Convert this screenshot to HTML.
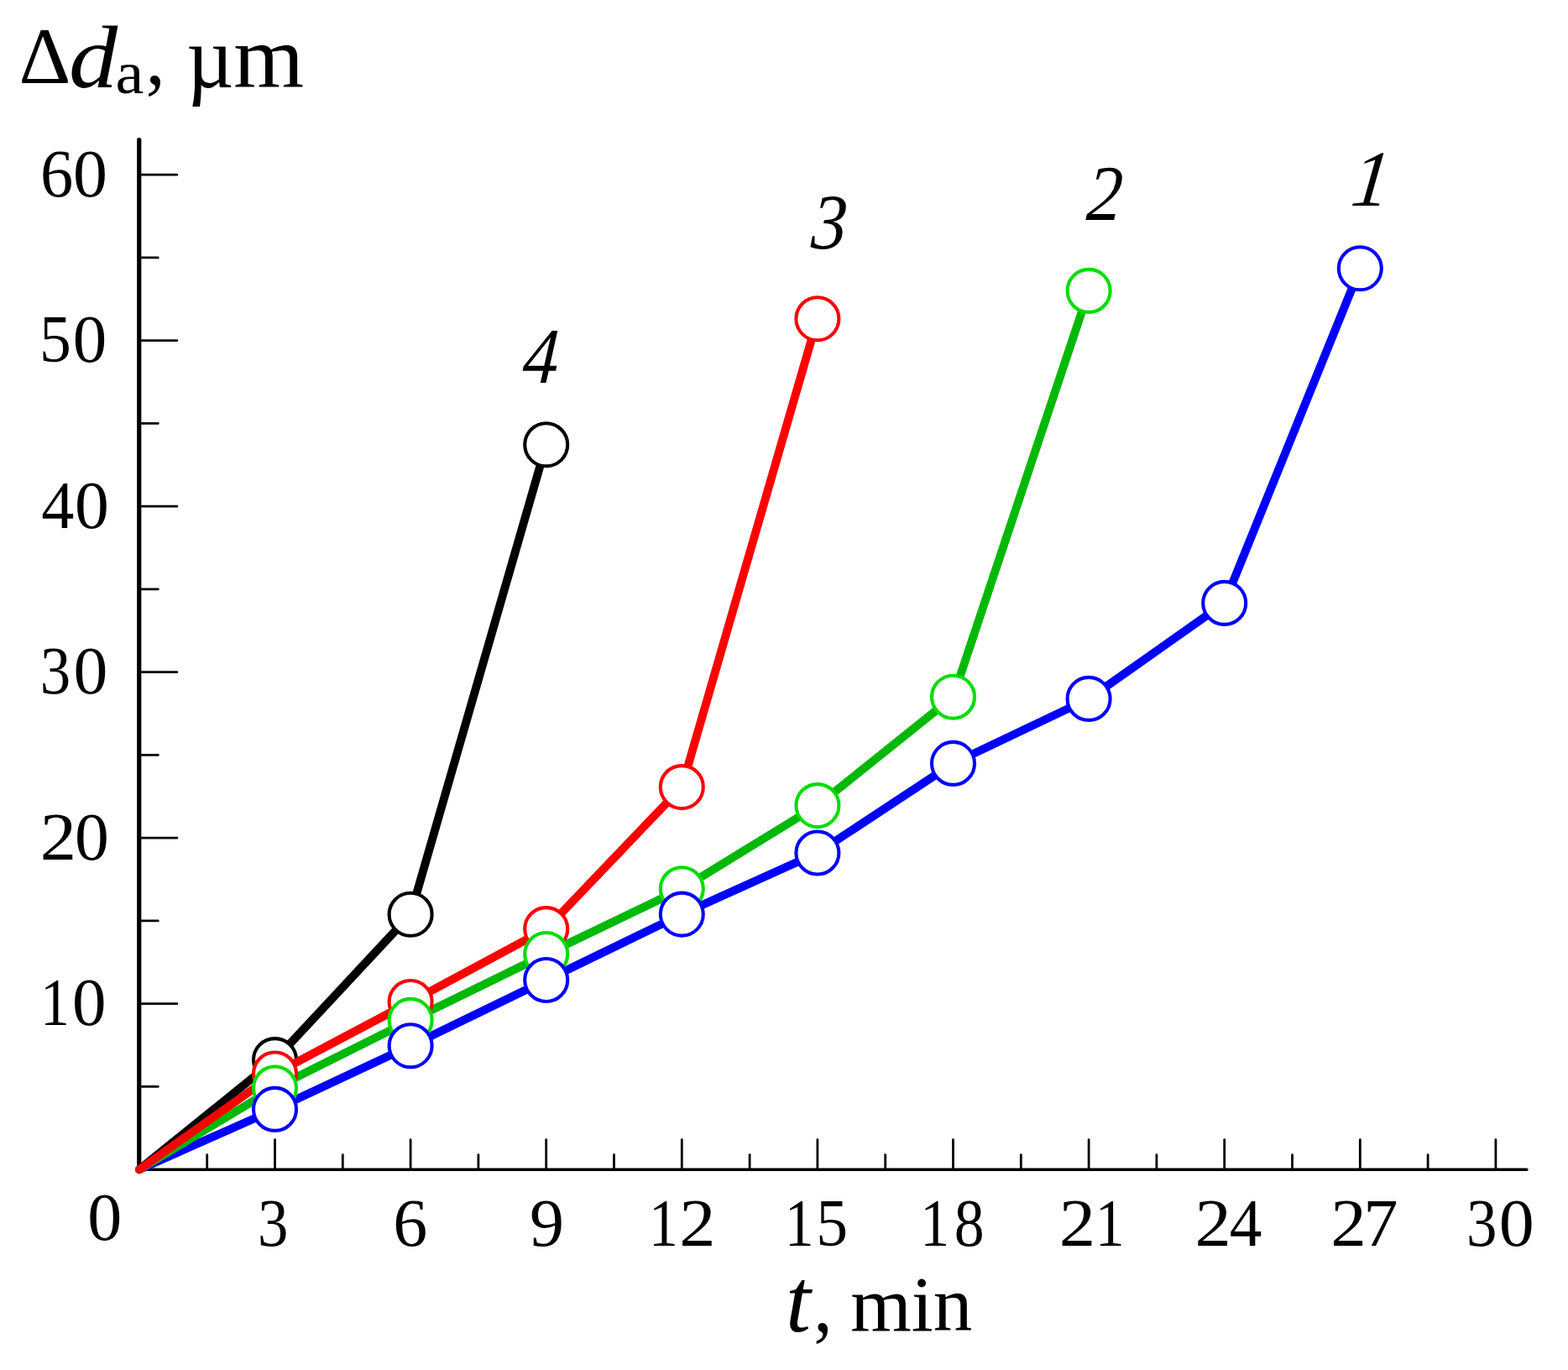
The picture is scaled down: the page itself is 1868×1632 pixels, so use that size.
<!DOCTYPE html>
<html lang="en">
<head>
<meta charset="utf-8">
<style>
html, body { margin: 0; padding: 0; background: #ffffff; overflow: hidden; }
svg { display: block; }
text { font-family: "Liberation Serif", "DejaVu Serif", serif; fill: #000000; }
</style>
</head>
<body>
<svg width="1868" height="1632" viewBox="0 0 1868 1632">
<rect x="0" y="0" width="1868" height="1632" fill="#ffffff"/>
<g id="axes" stroke="#000000" stroke-linecap="round" fill="none">
<line x1="165.75" y1="166.5" x2="165.75" y2="1393.2" stroke-width="5.2"/>
<line x1="165.9" y1="1393.2" x2="1818.8" y2="1393.2" stroke-width="3.6"/>
<g id="yticks" stroke-width="2.8">
<line x1="165.9" y1="1294.45" x2="188.3" y2="1294.45"/>
<line x1="165.9" y1="1195.7" x2="210.8" y2="1195.7"/>
<line x1="165.9" y1="1096.95" x2="188.3" y2="1096.95"/>
<line x1="165.9" y1="998.2" x2="210.8" y2="998.2"/>
<line x1="165.9" y1="899.45" x2="188.3" y2="899.45"/>
<line x1="165.9" y1="800.7" x2="210.8" y2="800.7"/>
<line x1="165.9" y1="701.95" x2="188.3" y2="701.95"/>
<line x1="165.9" y1="603.2" x2="210.8" y2="603.2"/>
<line x1="165.9" y1="504.45" x2="188.3" y2="504.45"/>
<line x1="165.9" y1="405.7" x2="210.8" y2="405.7"/>
<line x1="165.9" y1="306.95" x2="188.3" y2="306.95"/>
<line x1="165.9" y1="208.2" x2="210.8" y2="208.2"/>
</g>
<g id="xticks" stroke-width="2.8">
<line x1="246.7" y1="1393.2" x2="246.7" y2="1375.7"/>
<line x1="327.5" y1="1393.2" x2="327.5" y2="1357.7"/>
<line x1="408.3" y1="1393.2" x2="408.3" y2="1375.7"/>
<line x1="489.1" y1="1393.2" x2="489.1" y2="1357.7"/>
<line x1="569.9" y1="1393.2" x2="569.9" y2="1375.7"/>
<line x1="650.7" y1="1393.2" x2="650.7" y2="1357.7"/>
<line x1="731.5" y1="1393.2" x2="731.5" y2="1375.7"/>
<line x1="812.3" y1="1393.2" x2="812.3" y2="1357.7"/>
<line x1="893.1" y1="1393.2" x2="893.1" y2="1375.7"/>
<line x1="973.9" y1="1393.2" x2="973.9" y2="1357.7"/>
<line x1="1054.7" y1="1393.2" x2="1054.7" y2="1375.7"/>
<line x1="1135.5" y1="1393.2" x2="1135.5" y2="1357.7"/>
<line x1="1216.3" y1="1393.2" x2="1216.3" y2="1375.7"/>
<line x1="1297.1" y1="1393.2" x2="1297.1" y2="1357.7"/>
<line x1="1377.9" y1="1393.2" x2="1377.9" y2="1375.7"/>
<line x1="1458.7" y1="1393.2" x2="1458.7" y2="1357.7"/>
<line x1="1539.5" y1="1393.2" x2="1539.5" y2="1375.7"/>
<line x1="1620.3" y1="1393.2" x2="1620.3" y2="1357.7"/>
<line x1="1701.1" y1="1393.2" x2="1701.1" y2="1375.7"/>
<line x1="1781.9" y1="1393.2" x2="1781.9" y2="1357.7"/>
</g>
</g>
<g id="curve-4-line" fill="none" stroke-width="9.9" stroke-linecap="round" stroke-linejoin="round">
<path d="M165.9 1393.2 L327.5 1262.6 L489.1 1089.3 L650.7 529.8" stroke="#000000"/>
</g>
<g id="curve-4-markers" fill="#ffffff" stroke-width="4.1">
<g stroke="#000000">
<circle cx="327.5" cy="1262.6" r="25.5"/>
<circle cx="489.1" cy="1089.3" r="25.5"/>
<circle cx="650.7" cy="529.8" r="25.5"/>
</g>
</g>
<g id="curve-lines" fill="none" stroke-width="9.9" stroke-linecap="round" stroke-linejoin="round">
<path d="M165.9 1393.2 L327.5 1321.4 L489.1 1245.8 L650.7 1167.5 L812.3 1089.1 L973.9 1016 L1135.5 909.4 L1297.1 832.4 L1458.7 718.4 L1620.3 319.8" stroke="#0000ff"/>
<path d="M165.9 1393.2 L327.5 1296 L489.1 1215.4 L650.7 1136.5 L812.3 1058.8 L973.9 959.6 L1135.5 830.2 L1297.1 346.4" stroke="#00b808"/>
<path d="M165.9 1393.2 L327.5 1279 L489.1 1193.5 L650.7 1106.6 L812.3 937.6 L973.9 379.8" stroke="#ff0000"/>
</g>
<g id="curve-markers" fill="#ffffff" stroke-width="4.1">
<g stroke="#ff0000">
<circle cx="327.5" cy="1279" r="25.5"/>
<circle cx="489.1" cy="1193.5" r="25.5"/>
<circle cx="650.7" cy="1106.6" r="25.5"/>
<circle cx="812.3" cy="937.6" r="25.5"/>
<circle cx="973.9" cy="379.8" r="25.5"/>
</g>
<g stroke="#00dd00">
<circle cx="327.5" cy="1296" r="25.5"/>
<circle cx="489.1" cy="1215.4" r="25.5"/>
<circle cx="650.7" cy="1136.5" r="25.5"/>
<circle cx="812.3" cy="1058.8" r="25.5"/>
<circle cx="973.9" cy="959.6" r="25.5"/>
<circle cx="1135.5" cy="830.2" r="25.5"/>
<circle cx="1297.1" cy="346.4" r="25.5"/>
</g>
<g stroke="#0000ff">
<circle cx="327.5" cy="1321.4" r="25.5"/>
<circle cx="489.1" cy="1245.8" r="25.5"/>
<circle cx="650.7" cy="1167.5" r="25.5"/>
<circle cx="812.3" cy="1089.1" r="25.5"/>
<circle cx="973.9" cy="1016" r="25.5"/>
<circle cx="1135.5" cy="909.4" r="25.5"/>
<circle cx="1297.1" cy="832.4" r="25.5"/>
<circle cx="1458.7" cy="718.4" r="25.5"/>
<circle cx="1620.3" cy="319.8" r="25.5"/>
</g>
</g>
<g id="ylabels">
<text><tspan x="48.03" y="234" font-size="81" textLength="39.23" lengthAdjust="spacingAndGlyphs">6</tspan><tspan x="87.09" y="234" font-size="81" textLength="40.92" lengthAdjust="spacingAndGlyphs">0</tspan></text>
<text><tspan x="46.91" y="431" font-size="81" textLength="37.84" lengthAdjust="spacingAndGlyphs">5</tspan><tspan x="86.73" y="431" font-size="81">0</tspan></text>
<text><tspan x="49.14" y="629" font-size="81" textLength="39.12" lengthAdjust="spacingAndGlyphs">4</tspan><tspan x="89.1" y="629" font-size="81" textLength="40.8" lengthAdjust="spacingAndGlyphs">0</tspan></text>
<text><tspan x="47.8" y="826" font-size="81" textLength="36.44" lengthAdjust="spacingAndGlyphs">3</tspan><tspan x="87.5" y="826" font-size="81" textLength="40.8" lengthAdjust="spacingAndGlyphs">0</tspan></text>
<text><tspan x="47.69" y="1024" font-size="81" textLength="43.27" lengthAdjust="spacingAndGlyphs">2</tspan><tspan x="89.1" y="1024" font-size="81" textLength="40.8" lengthAdjust="spacingAndGlyphs">0</tspan></text>
<text><tspan x="47.96" y="1221" font-size="81" textLength="34.83" lengthAdjust="spacingAndGlyphs">1</tspan><tspan x="85.93" y="1221" font-size="81">0</tspan></text>
</g>
<g id="xlabels">
<text><tspan x="104.18" y="1477" font-size="81" textLength="41.04" lengthAdjust="spacingAndGlyphs">0</tspan></text>
<text><tspan x="306.9" y="1484" font-size="81" textLength="36.44" lengthAdjust="spacingAndGlyphs">3</tspan></text>
<text><tspan x="468.18" y="1484" font-size="81" textLength="40.98" lengthAdjust="spacingAndGlyphs">6</tspan></text>
<text><tspan x="630.98" y="1484" font-size="81" textLength="40.98" lengthAdjust="spacingAndGlyphs">9</tspan></text>
<text><tspan x="773.08" y="1484" font-size="81" textLength="34.83" lengthAdjust="spacingAndGlyphs">1</tspan><tspan x="809.29" y="1484" font-size="81" textLength="43.27" lengthAdjust="spacingAndGlyphs">2</tspan></text>
<text><tspan x="934.81" y="1484" font-size="81" textLength="34.83" lengthAdjust="spacingAndGlyphs">1</tspan><tspan x="972.31" y="1484" font-size="81" textLength="37.84" lengthAdjust="spacingAndGlyphs">5</tspan></text>
<text><tspan x="1096.31" y="1484" font-size="81" textLength="34.83" lengthAdjust="spacingAndGlyphs">1</tspan><tspan x="1136.78" y="1484" font-size="81" textLength="35.85" lengthAdjust="spacingAndGlyphs">8</tspan></text>
<text><tspan x="1261.74" y="1484" font-size="81" textLength="43.33" lengthAdjust="spacingAndGlyphs">2</tspan><tspan x="1304.86" y="1484" font-size="81" textLength="34.83" lengthAdjust="spacingAndGlyphs">1</tspan></text>
<text><tspan x="1423.49" y="1484" font-size="81" textLength="43.27" lengthAdjust="spacingAndGlyphs">2</tspan><tspan x="1464.75" y="1484" font-size="81" textLength="38.69" lengthAdjust="spacingAndGlyphs">4</tspan></text>
<text><tspan x="1585.36" y="1484" font-size="81" textLength="42.52" lengthAdjust="spacingAndGlyphs">2</tspan><tspan x="1624.26" y="1484" font-size="81" textLength="41.23" lengthAdjust="spacingAndGlyphs">7</tspan></text>
<text><tspan x="1746.9" y="1484" font-size="81" textLength="36.44" lengthAdjust="spacingAndGlyphs">3</tspan><tspan x="1785.81" y="1484" font-size="81" textLength="41.98" lengthAdjust="spacingAndGlyphs">0</tspan></text>
</g>
<g id="curve-labels">
<text font-style="italic" font-size="95" transform="translate(1607.67 245) scale(0.9500 1) skewX(-6.84)">1</text>
<text font-style="italic" font-size="93.96" transform="translate(1293.21 262) scale(0.9000 1) skewX(-4)">2</text>
<text font-style="italic" font-size="93.6" transform="translate(965.51 296) scale(0.9000 1) skewX(-4)">3</text>
<text font-style="italic" font-size="94.22" transform="translate(621.54 456) scale(0.9021 1) skewX(-4)">4</text>
</g>
<g id="axis-titles">
<text><tspan x="22.64" y="99" font-size="94.39" textLength="61.92" lengthAdjust="spacingAndGlyphs">Δ</tspan><tspan x="82.01" y="104" font-size="106.25" font-style="italic" textLength="58.16" lengthAdjust="spacingAndGlyphs">d</tspan><tspan x="137.44" y="111" font-size="72.03" textLength="33.71" lengthAdjust="spacingAndGlyphs">a</tspan><tspan x="173.46" y="100" font-size="96.89" textLength="23.32" lengthAdjust="spacingAndGlyphs">,</tspan> <tspan x="222.18" y="104" font-size="104.88" textLength="56.15" lengthAdjust="spacingAndGlyphs">µ</tspan><tspan x="278.24" y="104" font-size="104.88" textLength="83.87" lengthAdjust="spacingAndGlyphs">m</tspan></text>
<text><tspan x="936.07" y="1586" font-size="108.38" font-style="italic" textLength="29.86" lengthAdjust="spacingAndGlyphs">t</tspan><tspan x="969.28" y="1586" font-size="96.5" textLength="22.48" lengthAdjust="spacingAndGlyphs">,</tspan> <tspan x="1013.14" y="1585" font-size="94" textLength="145.23" lengthAdjust="spacingAndGlyphs">min</tspan></text>
</g>
</svg>
</body>
</html>
